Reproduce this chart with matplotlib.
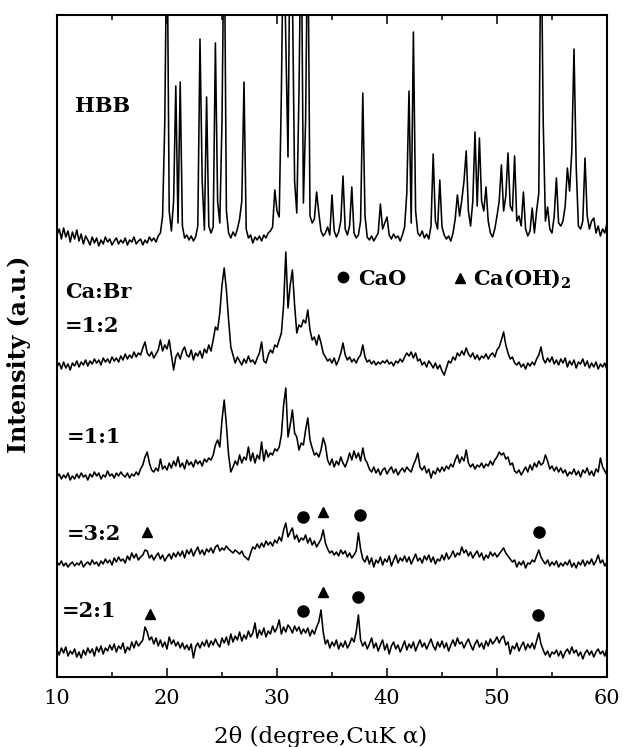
import numpy as np
import matplotlib.pyplot as plt

plt.rcParams['font.family'] = 'DejaVu Serif'
plt.rcParams['mathtext.fontset'] = 'dejavuserif'

# 2theta grid of the scans (0.2 deg step)
two_theta = np.linspace(10, 60, 251)

# intensities, counted from each trace's own baseline (a.u.)
hbb = [6, 12, 2, 13, 4, 10, -1, 9, 2, 11,
       0, 7, -3, 5, 1, -4, 4, -2, 3, -5,
       1, -3, 4, -1, 2, -4, 0, 3, -3, 1,
       -2, 3, -4, 1, -1, 4, -3, 0, 2, -4,
       1, -2, 4, 0, 3, -1, 5, 8, 25, 120,
       330, 30, 10, 40, 155, 18, 159, 15, 3, 6,
       1, 5, 0, 4, 15, 202, 60, 11, 144, 15,
       8, 14, 198, 40, 18, 120, 330, 30, 8, 3,
       9, 5, 12, 22, 40, 159, 12, 3, 6, -2,
       4, 1, 5, 0, 6, 3, 8, 10, 14, 51,
       30, 24, 150, 330, 200, 84, 330, 250, 60, 28,
       150, 330, 38, 120, 330, 25, 18, 22, 49, 28,
       10, 5, 8, 14, 6, 46, 10, 4, 9, 20,
       65, 12, 6, 15, 54, 8, 3, 6, 20, 148,
       25, 4, 1, 5, 0, 4, 8, 37, 12, 18,
       24, 6, 2, 7, 3, 5, 0, 6, 14, 48,
       150, 18, 209, 30, 8, 5, 10, 3, 7, 2,
       15, 87, 20, 12, 61, 14, 6, 2, 5, 0,
       8, 22, 46, 25, 41, 60, 90, 30, 15, 40,
       109, 35, 103, 40, 30, 54, 20, 8, 4, 12,
       25, 40, 76, 30, 45, 88, 35, 30, 85, 20,
       25, 15, 49, 12, 5, 10, 33, 8, 30, 48,
       330, 120, 20, 34, 12, 8, 25, 63, 18, 15,
       20, 35, 73, 50, 90, 192, 74, 15, 12, 20,
       83, 25, 12, 20, 23, 8, 15, 5, 12, 8,
       18]

ratio_1_2 = [-2, 2, -4, 3, -3, 1, -5, 2, -1, 4,
             -2, 3, 0, 5, -1, 4, 1, 6, 2, 5,
             0, 7, 3, 6, 2, 8, 4, 7, 3, 9,
             5, 11, 6, 10, 7, 13, 8, 12, 10, 17,
             23, 12, 9, 13, 7, 11, 15, 25, 14, 20,
             16, 25, 10, -5, 8, 12, 6, 14, 18, 10,
             8, 15, 5, 12, 9, 14, 7, 16, 12, 20,
             14, 25, 38, 35, 52, 80, 97, 75, 45, 18,
             10, 2, 8, 4, 0, 6, 2, 9, 3, 5,
             1, 7, 12, 23, 4, 2, 10, 15, 12, 20,
             18, 25, 32, 60, 113, 57, 80, 95, 60, 32,
             40, 38, 45, 42, 55, 35, 25, 28, 20, 30,
             22, 12, 8, 4, 6, 2, 7, 0, 5, 12,
             22, 10, 5, 8, 3, 6, 2, 7, 10, 20,
             8, 3, 5, 1, 4, 0, 3, 1, 4, 2,
             5, 1, 3, -1, 4, 2, 6, 3, 8, 12,
             9, 13, 7, 12, 4, 6, 0, 3, -2, 4,
             1, -3, 2, -4, 0, -6, -10, -3, 4, 2,
             8, 5, 12, 9, 14, 10, 17, 11, 8, 12,
             6, 10, 5, 9, 7, 11, 6, 10, 12, 8,
             15, 18, 25, 33, 20, 12, 6, 8, 2, 0,
             3, -2, 1, -4, 2, -1, 3, 0, 6, 10,
             18, 6, 2, 7, 3, 8, 1, 5, 0, 6,
             2, 7, -2, 4, 0, 5, -3, 3, 1, 6,
             -1, 4, -3, 2, -2, 3, -4, 1, -2, 2,
             -5]

ratio_1_1 = [-2, 1, -4, 0, -3, 2, -5, -1, -4, 1,
             -3, 2, -2, 0, -5, 1, -2, 3, -1, 2,
             -4, 0, -2, 4, -1, 1, -3, 2, -1, 3,
             0, -2, 2, -3, 1, -1, 3, 0, 6, 10,
             18, 23, 12, 5, 3, 7, 4, 16, 6, 9,
             5, 12, 7, 14, 9, 18, 8, 12, 6, 15,
             10, 13, 8, 15, 11, 14, 9, 16, 13, 17,
             15, 20, 30, 35, 28, 55, 75, 50, 20, 3,
             8, 14, 10, 20, 12, 18, 15, 28, 14, 22,
             12, 20, 16, 33, 14, 25, 18, 22, 20, 26,
             24, 28, 40, 70, 87, 38, 50, 65, 42, 38,
             25, 32, 30, 45, 57, 35, 27, 20, 22, 18,
             25, 37, 30, 15, 10, 16, 8, 14, 10, 18,
             12, 8, 14, 22, 15, 24, 17, 22, 14, 27,
             16, 12, 6, 3, 8, 2, 6, 0, 5, 7,
             1, 5, 8, 2, 6, 0, 4, 7, 3, 8,
             5, 3, 10, 15, 22, 8, 5, 9, 2, 6,
             -3, 4, 1, 7, 3, 8, 4, 9, 6, 11,
             8, 15, 20, 12, 18, 14, 25, 12, 8, 11,
             6, 10, 8, 12, 7, 11, 9, 14, 10, 15,
             18, 23, 20, 22, 16, 18, 10, 12, 4, 2,
             5, 0, 4, 8, 3, 10, 5, 12, 8, 14,
             10, 12, 20, 14, 6, 9, 4, 8, 3, 7,
             2, 5, -1, 3, 1, 6, 0, 4, -2, 5,
             2, 7, 0, 4, -1, 6, 3, 17, 8, 4,
             0]

ratio_3_2 = [3, 0, 4, -1, 2, -2, 1, 3, -1, 2,
             0, 4, -2, 1, 3, 0, 5, 1, 3, -1,
             4, 1, 6, 2, 5, 0, 7, 3, 8, 4,
             6, 2, 9, 5, 12, 7, 11, 5, 8, 10,
             15, 14, 7, 10, 5, 9, 12, 6, 10, 4,
             8, 11, 6, 12, 8, 13, 9, 14, 7, 15,
             11, 16, 9, 14, 18, 11, 15, 10, 16, 13,
             17, 12, 18, 20, 14, 17, 15, 19, 16, 14,
             12, 15, 13, 11, 14, 9, 7, 5, 12, 18,
             16, 21, 17, 22, 18, 24, 20, 23, 19, 25,
             22, 28, 24, 35, 42, 28, 33, 37, 26, 30,
             23, 27, 25, 30, 22, 27, 20, 24, 18, 22,
             26, 35, 22, 16, 12, 14, 10, 13, 9, 15,
             11, 14, 8, 12, 7, 10, 14, 32, 16, 6,
             3, 9, 1, 7, -2, 5, 2, 8, 0, 6,
             3, 9, -1, 5, 10, 2, 7, 4, 9, 3,
             8, 1, 6, 11, 4, 7, 2, 9, 5, 10,
             3, 8, 1, 6, 4, 10, 5, 12, 6, 9,
             14, 8, 12, 10, 18, 12, 15, 9, 13, 7,
             11, 14, 8, 12, 5, 10, 7, 13, 9, 12,
             8, 11, 14, 17, 12, 9, 6, 3, 5, -2,
             3, 0, 4, -3, 2, 1, 5, 3, 9, 15,
             8, 4, 1, 5, -1, 3, 0, 4, -2, 2,
             -1, 3, 0, 5, -2, 2, -3, 3, 0, 5,
             -1, 4, 1, 6, 0, 4, 10, 2, 5, -1,
             3]

ratio_2_1 = [2, -3, 4, -1, 5, -4, 1, -2, 3, -5,
             0, -6, 2, -3, 4, -1, 3, -4, 5, 0,
             6, -2, 4, 1, 7, 2, 8, 0, 6, 3,
             9, -1, 5, 2, 10, 4, 11, 6, 9, 12,
             25, 20, 12, 15, 8, 14, 6, 12, 5, 10,
             3, 15, 8, 12, 6, 10, 4, 9, 3, 7,
             2, 8, -6, 5, 9, 4, 10, 6, 12, 5,
             11, 7, 13, 8, 5, 14, 9, 15, 7, 18,
             10, 16, 12, 20, 11, 17, 13, 21, 15, 19,
             29, 14, 22, 17, 24, 15, 21, 18, 26, 20,
             24, 32, 18, 25, 20, 27, 24, 19, 26, 21,
             25, 18, 23, 19, 24, 16, 22, 18, 25, 30,
             42, 20, 8, 12, 4, 10, 6, 12, 3, 9,
             5, 11, 4, 8, 14, 10, 20, 37, 12, 6,
             10, 3, 8, 14, 4, 9, 1, 7, 12, 2,
             8, -2, 6, 10, 3, 7, 0, 5, 11, 2,
             8, 4, 10, 1, 7, 12, 5, 9, 3, 8,
             13, 6, 2, 10, 5, 11, 4, 9, 1, 7,
             12, 6, 14, 8, 10, 4, 9, 13, 7, 2,
             8, 12, 5, 9, 3, 11, 6, 13, 8, 11,
             15, 9, 14, 16, 7, 10, -2, 6, 3, 9,
             1, 6, 10, 2, 8, 4, 9, 3, 11, 19,
             8, 2, -3, 1, -5, 0, -2, 2, -4, 1,
             -6, 0, 3, -2, 5, -1, 2, -4, 0, -7,
             -1, 2, -3, 1, -5, 0, 3, -2, 1, -4,
             4]

traces = [hbb, ratio_1_2, ratio_1_1, ratio_3_2, ratio_2_1]
offsets = [436, 312, 202, 112, 25]   # vertical stacking of the patterns

# phase peaks marked on the two Ca-rich samples (2theta)
cao_3_2 = [32.4, 37.5, 53.85]
caoh2_3_2 = [18.2, 34.2]
cao_2_1 = [32.4, 37.4, 53.75]
caoh2_2_1 = [18.45, 34.15]

fig = plt.figure(figsize=(6.23, 7.47), dpi=100)
ax = fig.add_axes([57 / 623, 1 - 677 / 747, 550 / 623, 662 / 747])

for vals, off in zip(traces, offsets):
    ax.plot(two_theta, np.array(vals) + off, color='black', lw=1.15)


def mark(peaks, vals, off, marker, size):
    # put a symbol a little above the local maximum of the pattern
    vals = np.array(vals)
    for p in peaks:
        near = np.abs(two_theta - p) <= 0.3
        y = off + vals[near].max() + 18
        ax.plot(p, y, marker=marker, color='black', ms=size, ls='none')


mark(cao_3_2, ratio_3_2, offsets[3], 'o', 8)
mark(caoh2_3_2, ratio_3_2, offsets[3], '^', 7.5)
mark(cao_2_1, ratio_2_1, offsets[4], 'o', 8)
mark(caoh2_2_1, ratio_2_1, offsets[4], '^', 7.5)

# sample labels
lab = dict(fontsize=15, fontweight='bold', ha='left', va='baseline')
ax.text(11.64, 565, 'HBB', **lab)
ax.text(10.73, 379, 'Ca:Br', **lab)
ax.text(10.73, 345, '=1:2', **lab)
ax.text(10.88, 234, '=1:1', **lab)
ax.text(10.88, 137, '=3:2', **lab)
ax.text(10.42, 60, '=2:1', **lab)

# phase key
ax.plot(36.0, 400, marker='o', color='black', ms=7.5, ls='none')
ax.text(37.36, 392, 'CaO', **lab)
ax.plot(46.64, 399, marker='^', color='black', ms=7, ls='none')
ax.text(47.85, 392, r'Ca(OH)$_\mathbf{2}$', **lab)

ax.set_xlim(10, 60)
ax.set_ylim(0, 662)
ax.set_xticks([10, 20, 30, 40, 50, 60])
ax.set_xticks([15, 25, 35, 45, 55], minor=True)
ax.set_yticks([])
ax.tick_params(axis='x', which='both', direction='in', top=True, bottom=True,
               labelsize=15, pad=9, width=1.1)
ax.tick_params(axis='x', which='major', length=6.5)
ax.tick_params(axis='x', which='minor', length=3.5)
for s in ax.spines.values():
    s.set_linewidth(1.5)

fig.text(321 / 623, 1 - 737 / 747, '2θ (degree,CuK α)', fontsize=16.5,
         ha='center', va='center')
fig.text(19 / 623, 1 - 354 / 747, 'Intensity (a.u.)', fontsize=17,
         fontweight='bold', rotation=90, ha='center', va='center')

fig.savefig('out.png', dpi=100)
